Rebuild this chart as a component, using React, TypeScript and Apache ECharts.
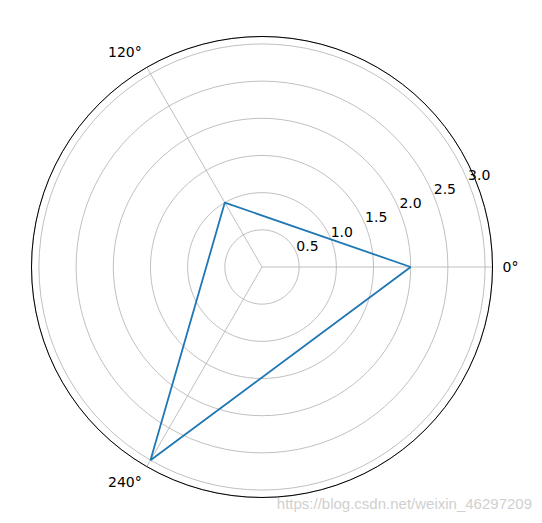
import React, { useEffect, useRef } from "react";
import * as echarts from "echarts";

const angles = [0, 120, 240, 360];
const radii = [2, 1, 3, 2];
const radialTicks = [0.5, 1.0, 1.5, 2.0, 2.5, 3.0];
const angleTicks = [0, 120, 240];
const rMax = 3.1;
const watermark = "https://blog.csdn.net/weixin_46297209";

export default function App() {
  const ref = useRef<HTMLDivElement>(null);
  useEffect(() => {
    if (!ref.current) return;
    const chart = echarts.init(ref.current, null, { renderer: "svg" });
    const font = "DejaVu Sans";
    chart.setOption({
      animation: false,
      backgroundColor: "#ffffff",
      polar: { center: [262, 267], radius: 230.5 },
      angleAxis: {
        type: "value",
        min: 0,
        max: 360,
        interval: 120,
        startAngle: 0,
        clockwise: false,
        axisLine: { show: true, lineStyle: { color: "#000000", width: 1 } },
        axisTick: { show: false },
        axisLabel: {
          show: true,
          margin: 10,
          color: "#000000",
          fontFamily: font,
          fontSize: 14,
          formatter: (v: number) => (angleTicks.includes(v) ? v + "°" : ""),
        },
        splitLine: { show: true, lineStyle: { color: "#b0b0b0", width: 0.8 } },
        z: 5,
      },
      radiusAxis: {
        type: "value",
        min: 0,
        max: rMax,
        interval: 0.5,
        axisLine: { show: false },
        axisTick: { show: false },
        axisLabel: { show: false },
        splitLine: {
          show: true,
          lineStyle: { color: "#b0b0b0", width: 0.8 },
        },
      },
      series: [
        {
          type: "line",
          coordinateSystem: "polar",
          data: angles.map((a, i) => [radii[i], a]),
          symbol: "none",
          lineStyle: { color: "#1f77b4", width: 1.8 },
          z: 10,
        },
      ],
    });
    const labels = radialTicks.map((r) => {
      const p = chart.convertToPixel({ polarIndex: 0 } as any, [r, 22.5]) as number[];
      return {
        type: "text",
        x: p[0],
        y: p[1],
        style: {
          text: r.toFixed(1),
          fill: "#000000",
          font: `14px "${font}"`,
          textAlign: "left",
          textVerticalAlign: "bottom",
        },
        z: 20,
      };
    });
    chart.setOption({
      graphic: [
        ...labels,
        {
          type: "text",
          right: 10,
          top: 496,
          style: {
            text: watermark,
            fill: "#d0d0d0",
            font: '15px "Liberation Sans"',
          },
          z: 20,
        },
      ],
    });
    return () => chart.dispose();
  }, []);
  return (
    <div
      ref={ref}
      style={{ position: "fixed", left: 0, top: 0, width: 542, height: 523 }}
    />
  );
}
